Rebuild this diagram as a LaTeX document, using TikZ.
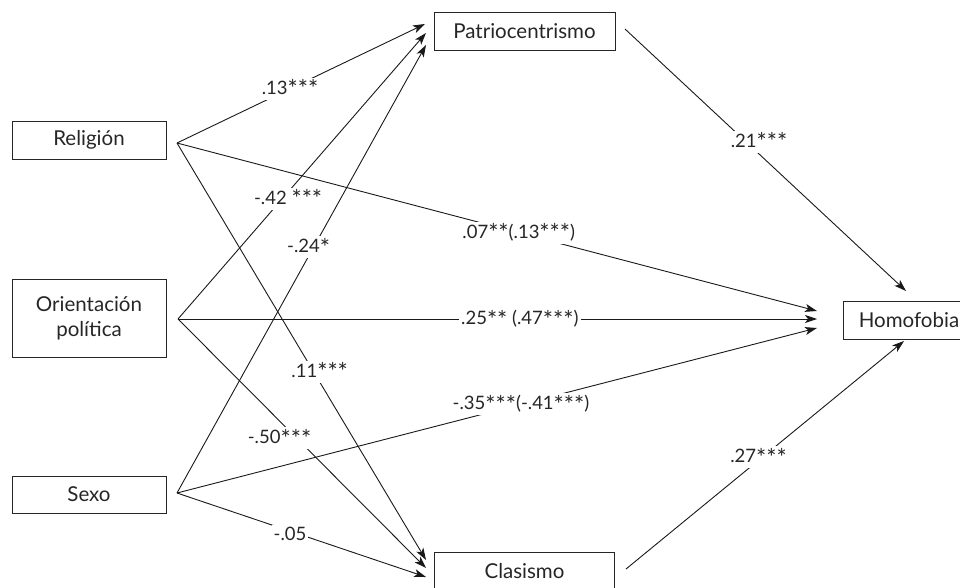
\documentclass[tikz,border=0pt]{standalone}
\usepackage{fontspec}
\usepackage{graphicx}
\setmainfont{Lato}
\usetikzlibrary{arrows.meta}
\newcommand{\sg}{\raisebox{-3.5pt}{\scalebox{1.3}{*}}}
\begin{document}
\begin{tikzpicture}[x=1pt,y=-1pt,
  box/.style={draw=black!85, line width=0.9pt, minimum height=38pt, inner sep=0pt,
    font=\fontsize{20.5}{25}\selectfont, text=black!85},
  conn/.style={line width=0.9pt, draw=black!90},
  arr/.style={conn, -{Stealth[length=12pt,width=8pt,inset=3pt]}},
  lab/.style={fill=white, inner sep=2pt, font=\fontsize{18.5}{20}\selectfont, text=black!85}]
\useasboundingbox (0,0) rectangle (960,588);
% boxes
\node[box, minimum width=154pt] (rel) at (89,140) {Religión};
\node[box, minimum width=154pt, minimum height=78pt, align=center] (ori) at (89,318) {Orientación\\política};
\node[box, minimum width=154pt, minimum height=37pt] (sex) at (89,494.5) {Sexo};
\node[box, minimum width=181pt] (pat) at (524.5,31) {Patriocentrismo};
\node[box, minimum width=180pt] (cla) at (524.5,571) {Clasismo};
\node[box, minimum width=132pt] (hom) at (909,320) {Homofobia};
% connector end points
\coordinate (rs) at (177,143);
\coordinate (os) at (178,319);
\coordinate (ss) at (177,493);
\coordinate (pt1) at (425,24);
\coordinate (pt2) at (426,33);
\coordinate (pt3) at (426,45);
\coordinate (ct1) at (426,560);
\coordinate (ct2) at (426,568);
\coordinate (ct3) at (426,577);
\coordinate (ht1) at (817,311);
\coordinate (ht2) at (817,319);
\coordinate (ht3) at (817,328);
\coordinate (htp) at (906,291);
\coordinate (htc) at (904,341);
\coordinate (ps) at (625,29);
\coordinate (cs) at (626,569);
% connectors
\draw[arr] (rs) -- node[lab,pos=0.456] {.13\sg\sg\sg} (pt1);
\draw[arr] (os) -- node[lab,pos=0.42,xshift=6pt] {-.42 \sg\sg\sg} (pt2);
\draw[arr] (ss) -- node[lab,pos=0.549,xshift=-5pt] {-.24\sg} (pt3);
\draw[arr] (rs) -- node[lab,pos=0.534] {.07\sg\sg(.13\sg\sg\sg)} (ht1);
\draw[arr] (os) -- node[lab,pos=0.535] {.25\sg\sg{} (.47\sg\sg\sg)} (ht2);
\draw[arr] (ss) -- node[lab,pos=0.5375] {-.35\sg\sg\sg(-.41\sg\sg\sg)} (ht3);
\draw[arr] (rs) -- node[lab,pos=0.549,xshift=6pt] {.11\sg\sg\sg} (ct1);
\draw[arr] (os) -- node[lab,pos=0.478,xshift=-17pt] {-.50\sg\sg\sg} (ct2);
\draw[arr] (ss) -- node[lab,pos=0.454,yshift=-3pt] {-.05} (ct3);
\draw[arr] (ps) -- node[lab,pos=0.431,xshift=13pt] {.21\sg\sg\sg} (htp);
\draw[arr] (cs) -- node[lab,pos=0.491,xshift=-4pt] {.27\sg\sg\sg} (htc);
\end{tikzpicture}
\end{document}
